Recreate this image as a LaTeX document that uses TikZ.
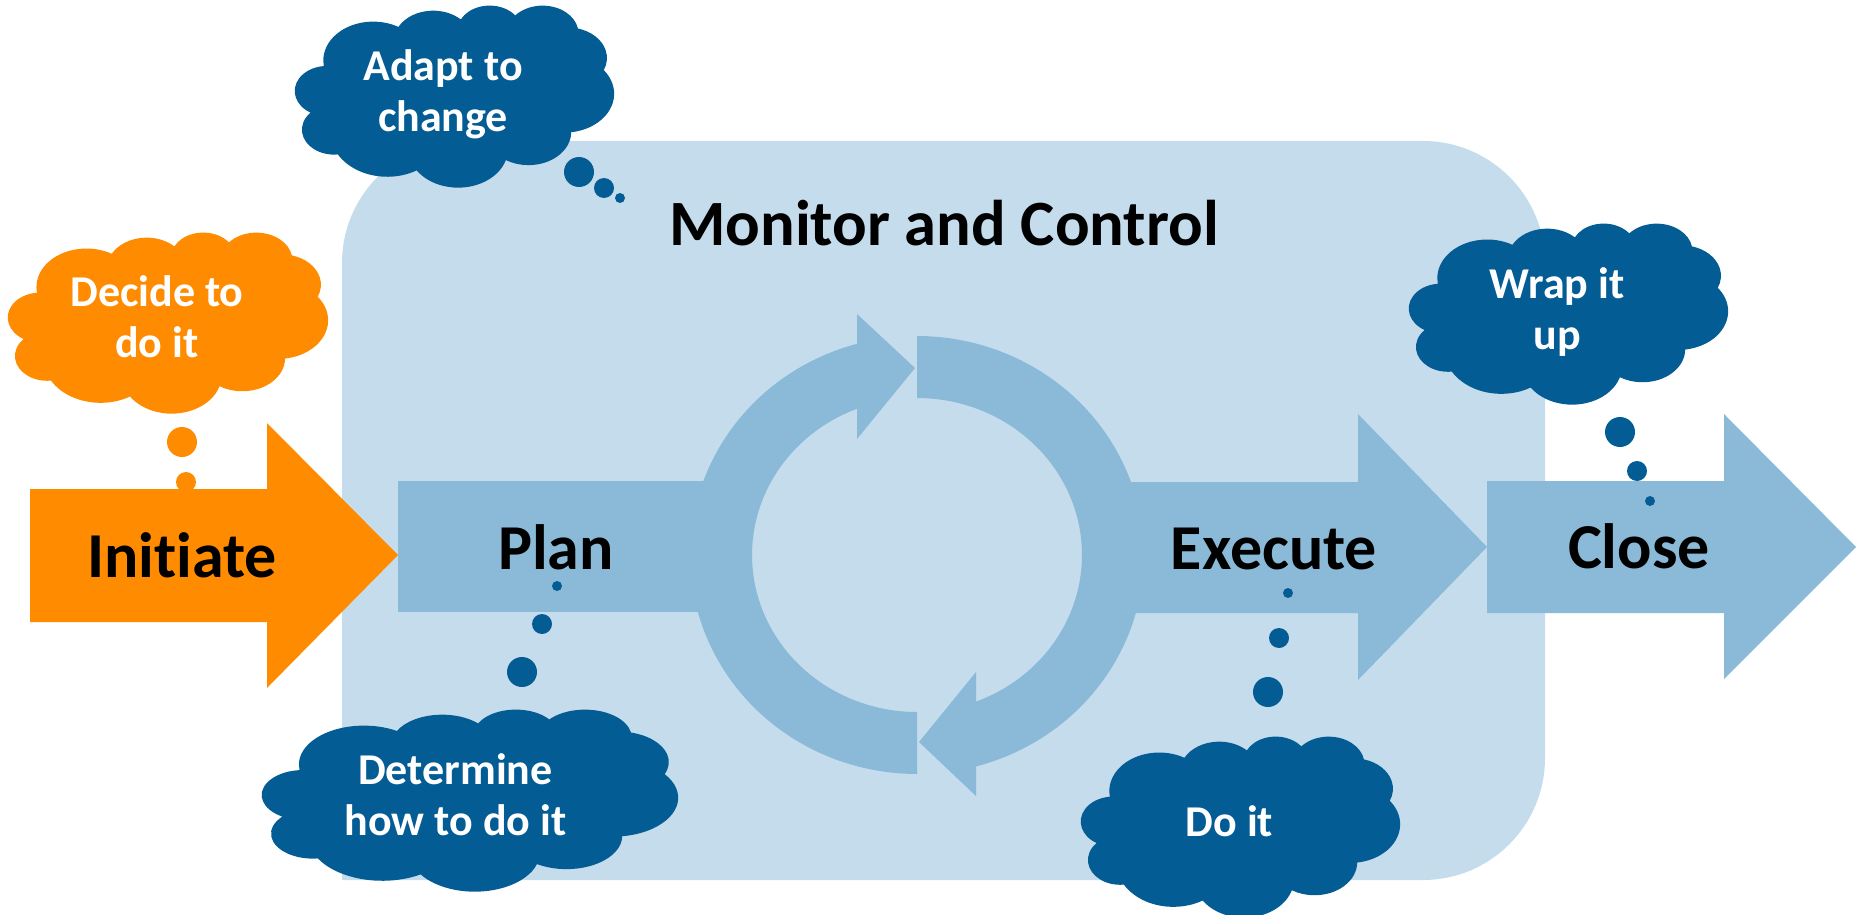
\documentclass[tikz,border=0pt]{standalone}
\usepackage{fontspec}
\setmainfont[Ligatures=NoCommon]{Carlito}
\definecolor{boxbg}{HTML}{C5DCEC}
\definecolor{arrowblue}{HTML}{8ABAD8}
\definecolor{darkblue}{HTML}{045C94}
\definecolor{orangec}{HTML}{FF8C00}
\tikzset{
  declare function={vpar(\a,\w,\h)=atan2(\w*sin(\a),\h*cos(\a))+360*round((\a-atan2(\w*sin(\a),\h*cos(\a)))/360);},
  bigtext/.style={font=\fontsize{64}{70}\selectfont\bfseries, text=black, inner sep=0pt, anchor=base},
  cloudtext/.style={font=\fontsize{44}{51}\selectfont\bfseries, text=white, inner sep=0pt, align=center},
  cloudtextone/.style={font=\fontsize{44}{51}\selectfont\bfseries, text=white, inner sep=0pt, anchor=base},
  cloudarc/.style n args={4}{insert path={arc[start angle={vpar(#3,#1,#2)}, end angle={vpar(#4,#1,#2)}, x radius=#1, y radius=#2]}},
  cloudpath/.style={insert path={(3.9,14.37)
    [cloudarc={6.753}{9.190}{-190.487}{-66.707}]
    [cloudarc={5.333}{7.267}{-144.102}{-54.157}]
    [cloudarc={4.365}{5.945}{-145.808}{-46.085}]
    [cloudarc={4.857}{6.595}{-130.986}{-13.744}]
    [cloudarc={5.333}{7.273}{-78.709}{30.318}]
    [cloudarc={6.775}{9.220}{-46.267}{84.002}]
    [cloudarc={5.785}{7.867}{0.625}{114.658}]
    [cloudarc={6.752}{9.215}{22.452}{137.624}]
    [cloudarc={7.720}{10.543}{66.243}{141.954}]
    [cloudarc={4.360}{5.918}{-274.942}{-128.206}]
    [cloudarc={4.345}{5.945}{-246.829}{-94.310}]
    -- cycle}},
  cloudbox/.style n args={4}{shift={(#1,#2)}, xscale={(#3-#1)/43.2}, yscale={(#4-#2)/43.2}},
}
\begin{document}
\begin{tikzpicture}[x=1pt,y=-1pt]
\useasboundingbox (0,0) rectangle (1856,915);
% background box
\fill[boxbg] (342,880) -- (342,400) [rounded corners=122] -- (342,141) -- (1545,141) -- (1545,880) -- (1000,880) [sharp corners] -- (342,880) -- cycle;
% plan body
\fill[arrowblue] (398,481) rectangle (740,612);
% execute arrow
\fill[arrowblue] (1095,482) -- (1358,482) -- (1358,414) -- (1487,547) -- (1358,680) -- (1358,613) -- (1095,613) -- cycle;
% close arrow
\fill[arrowblue] (1487,481) -- (1724,481) -- (1724,414) -- (1856,547) -- (1724,679) -- (1724,613) -- (1487,613) -- cycle;
% cycle arrows
\fill[arrowblue] plot[domain=90:254.7, samples=80, variable=\t] ({917+227*cos(\t)},{555+219*sin(\t)})
  -- (857,314) -- (915,368) -- (857,439)
  -- plot[domain=248.7:90, samples=80, variable=\t] ({917+165*cos(\t)},{555+157*sin(\t)}) -- cycle;
\fill[arrowblue] plot[domain=-90:74.9, samples=80, variable=\t] ({917+227*cos(\t)},{555+219*sin(\t)})
  -- (976,796) -- (919,742) -- (976,672)
  -- plot[domain=69.0:-90, samples=80, variable=\t] ({917+165*cos(\t)},{555+157*sin(\t)}) -- cycle;
% initiate arrow
\fill[orangec] (30,489) -- (267,489) -- (267,423) -- (398,555) -- (267,688) -- (267,622) -- (30,622) -- cycle;
% clouds
\begin{scope}[cloudbox={8}{232}{328}{413}]
  \fill[orangec] [cloudpath];
\end{scope}
\begin{scope}[cloudbox={295}{5}{614}{187}]
  \fill[darkblue] [cloudpath];
\end{scope}
\begin{scope}[cloudbox={1409}{223}{1728}{404}]
  \fill[darkblue] [cloudpath];
\end{scope}
\begin{scope}[cloudbox={262}{709}{678}{891}]
  \fill[darkblue] [cloudpath];
\end{scope}
\begin{scope}[cloudbox={1081}{736}{1400}{917}]
  \fill[darkblue] [cloudpath];
\end{scope}
% bubbles
\fill[orangec] (182,442) circle[radius=15] (186,482) circle[radius=10];
\fill[darkblue] (579,172) circle[radius=15] (604,188) circle[radius=10] (620,198) circle[radius=5];
\fill[darkblue] (1620,432) circle[radius=15] (1637,471) circle[radius=10] (1650,501) circle[radius=5];
\fill[darkblue] (557,586) circle[radius=5] (542,624) circle[radius=10] (522,672) circle[radius=15];
\fill[darkblue] (1288,593) circle[radius=5] (1279,638) circle[radius=10] (1268,692) circle[radius=15];
% texts
\node[bigtext] (initiate) at (182,577) {Initiate};
\node[bigtext] (plan) at (556,569) {Plan};
\node[bigtext] (execute) at (1274,569) {Execute};
\node[bigtext] (close) at (1639,568) {Close};
\node[bigtext, font=\fontsize{64.6}{72}\selectfont\bfseries] (monitor) at (944,245) {Monitor and Control};
\node[cloudtext] (decide) at (157,321.3) {\strut Decide to\\\strut do it};
\node[cloudtext] (adapt) at (443,96.3) {\strut Adapt to\\\strut change};
\node[cloudtext] (wrap) at (1557,313.3) {\strut Wrap it\\\strut up};
\node[cloudtext] (determine) at (455.5,799.3) {\strut Determine\\\strut how to do it};
\node[cloudtextone] (doit) at (1229.5,836) {Do it};
\end{tikzpicture}
\end{document}
